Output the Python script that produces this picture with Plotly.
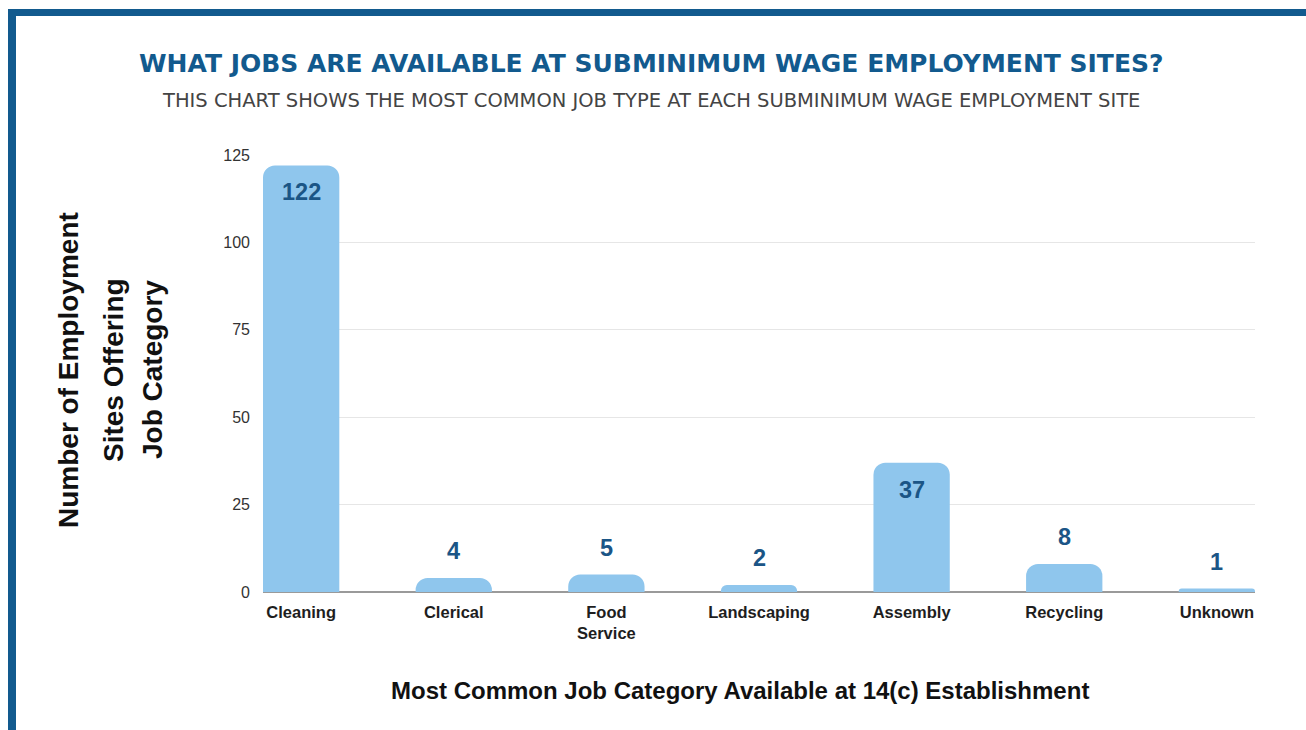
import plotly.graph_objects as go

# Most common job category at each 14(c) subminimum wage site
categories = ["Cleaning", "Clerical", "Food Service", "Landscaping", "Assembly", "Recycling", "Unknown"]
tick_labels = ["Cleaning", "Clerical", "Food<br>Service", "Landscaping", "Assembly", "Recycling", "Unknown"]
site_counts = [122, 4, 5, 2, 37, 8, 1]
y_ticks = [0, 25, 50, 75, 100, 125]

BAR = "#8fc6ed"
NAVY = "#125a8e"
LABEL = "#1b5586"

W, H = 1306, 730
L, R, T, B = 263, 51, 155, 138
PW, PH = W - L - R, H - T - B


def px(x):
    return (x - L) / PW


def py(y):
    return (H - B - y) / PH


fig = go.Figure()
fig.add_trace(go.Bar(
    x=list(range(len(categories))),
    y=site_counts,
    width=0.5,
    marker=dict(color=BAR, cornerradius=12, line=dict(width=0)),
    hovertext=categories,
    showlegend=False,
))

# value labels: inside the top of tall bars, above short ones
for i, v in enumerate(site_counts):
    inside = v > 20
    fig.add_annotation(
        x=i, y=v, xref="x", yref="y", text=f"<b>{v}</b>", showarrow=False,
        yanchor="top" if inside else "bottom", yshift=-12 if inside else 12,
        font=dict(family="Liberation Sans", size=23.5, color=LABEL),
    )

fig.update_layout(
    width=W, height=H,
    margin=dict(l=L, r=R, t=T, b=B),
    paper_bgcolor="white", plot_bgcolor="white",
    bargap=0.5,
    xaxis=dict(
        range=[-0.25, 6.25], tickmode="array",
        tickvals=list(range(len(categories))), ticktext=tick_labels,
        tickfont=dict(family="Liberation Sans", size=16.5, color="#1e1e1e", weight="bold"),
        showgrid=False, zeroline=False, showline=False, ticks="", ticklabelstandoff=8,
    ),
    yaxis=dict(
        range=[0, 125], tickvals=y_ticks,
        tickfont=dict(family="Liberation Sans", size=16, color="#333333"),
        showgrid=True, gridcolor="#e6e6e6", gridwidth=1,
        zeroline=True, zerolinecolor="#9a9a9a", zerolinewidth=1.5,
        showline=False, ticks="", ticklabelstandoff=12,
    ),
    shapes=[
        dict(type="rect", xref="paper", yref="paper",
             x0=px(8), x1=px(W + 20), y0=py(16), y1=py(9),
             fillcolor=NAVY, line=dict(width=0), layer="above"),
        dict(type="rect", xref="paper", yref="paper",
             x0=px(8), x1=px(16), y0=py(H + 20), y1=py(9),
             fillcolor=NAVY, line=dict(width=0), layer="above"),
    ],
)


def paper_text(xpix, ypix, text, font, angle=0):
    fig.add_annotation(
        x=px(xpix), y=py(ypix), xref="paper", yref="paper", showarrow=False,
        xanchor="center", yanchor="middle", text=text, textangle=angle, font=font,
    )


paper_text(651, 63, "<b>WHAT JOBS ARE AVAILABLE AT SUBMINIMUM WAGE EMPLOYMENT SITES?</b>",
           dict(family="DejaVu Sans", size=25, color=NAVY))
paper_text(651, 100, "THIS CHART SHOWS THE MOST COMMON JOB TYPE AT EACH SUBMINIMUM WAGE EMPLOYMENT SITE",
           dict(family="DejaVu Sans", size=19.5, color="#444444"))
paper_text(740, 690, "<b>Most Common Job Category Available at 14(c) Establishment</b>",
           dict(family="Liberation Sans", size=24, color="#111111"))
for xpix, line in [(68, "Number of Employment"), (113, "Sites Offering"), (152, "Job Category")]:
    paper_text(xpix, 370, f"<b>{line}</b>",
               dict(family="Liberation Sans", size=28, color="#111111"), angle=-90)

fig.write_html("out.html")
